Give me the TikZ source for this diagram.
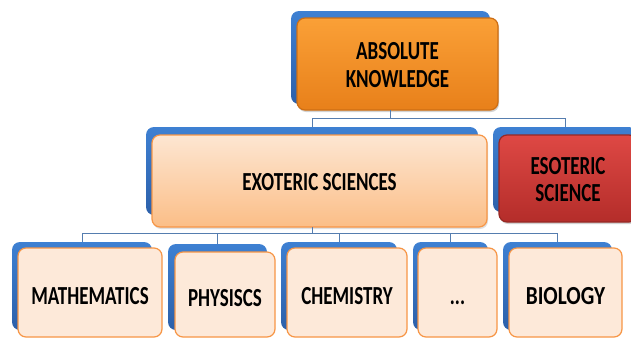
\documentclass[tikz,border=0pt]{standalone}
\usepackage{fontspec}
\setmainfont{Carlito}
\usepackage{graphicx}
\usetikzlibrary{shadows}
\definecolor{bluetop}{RGB}{62,128,210}
\definecolor{bluebot}{RGB}{44,96,170}
\definecolor{orgtop}{RGB}{250,160,55}
\definecolor{orgbot}{RGB}{232,128,26}
\definecolor{orgline}{RGB}{205,110,20}
\definecolor{peachtop}{RGB}{253,230,210}
\definecolor{peachbot}{RGB}{251,190,135}
\definecolor{peachline}{RGB}{247,150,70}
\definecolor{redtop}{RGB}{222,72,68}
\definecolor{redbot}{RGB}{180,45,42}
\definecolor{redline}{RGB}{150,40,36}
\definecolor{leaffill}{RGB}{253,233,217}
\definecolor{connc}{RGB}{85,125,175}
\newcommand{\lbl}[2][-4pt]{\raisebox{#1}[\height][\depth]{\scalebox{1}[1.37]{\begin{tabular}{@{}c@{}}#2\end{tabular}}}}
\newcommand{\widelbl}[1]{\raisebox{-6.5pt}[\height][\depth]{\scalebox{1.12}[1.37]{\begin{tabular}{@{}c@{}}#1\end{tabular}}}}
\begin{document}
\begin{tikzpicture}[x=1pt,y=-1pt,
  backing/.style={draw=none, rounded corners=8pt, top color=bluetop, bottom color=bluebot, inner sep=0pt, outer sep=0pt},
  front/.style={rounded corners=8pt, inner sep=0pt, outer sep=0pt, line width=1.2pt,
    font=\fontsize{19}{20}\selectfont\bfseries},
  topbox/.style={front, draw=orgline, top color=orgtop, bottom color=orgbot,
    drop shadow={shadow xshift=1pt, shadow yshift=-2pt, opacity=.35}},
  midbox/.style={front, draw=peachline, top color=peachtop, bottom color=peachbot,
    drop shadow={shadow xshift=1pt, shadow yshift=-2pt, opacity=.25}},
  redbox/.style={front, draw=redline, top color=redtop, bottom color=redbot,
    drop shadow={shadow xshift=1pt, shadow yshift=-2pt, opacity=.35}},
  leafbox/.style={front, draw=peachline, fill=leaffill},
  conn/.style={draw=connc, line width=1pt}]
\useasboundingbox (0,0) rectangle (631,338);
\clip (0,0) rectangle (631,338);
\fill[white] (0,0) rectangle (631,338);
% bus coordinates
\coordinate (bus1) at (0,118);
\coordinate (bus2) at (0,233);
% backings
\node[backing, minimum width=199pt, minimum height=93pt] (absb) at (390.5,57.5) {};
\node[backing, minimum width=332pt, minimum height=88pt] (exob) at (312,171) {};
\node[backing, minimum width=144pt, minimum height=85pt] (esob) at (565,169.5) {};
\node[backing, minimum width=140pt, minimum height=88pt] (mathb) at (82,286) {};
\node[backing, minimum width=99pt, minimum height=86pt] (phyb) at (217.5,287) {};
\node[backing, minimum width=116pt, minimum height=88pt] (chemb) at (339,286) {};
\node[backing, minimum width=75pt, minimum height=88pt] (dotb) at (450.5,286) {};
\node[backing, minimum width=109pt, minimum height=88pt] (biob) at (557.5,286) {};
% front boxes
\node[topbox, minimum width=201pt, minimum height=92pt] (abs) at (397.5,64) {\lbl{ABSOLUTE\\KNOWLEDGE}};
\node[midbox, minimum width=335pt, minimum height=92pt] (exo) at (319.5,181) {\lbl{EXOTERIC SCIENCES}};
\node[redbox, minimum width=138pt, minimum height=87pt] (eso) at (568,178.5) {\lbl{ESOTERIC\\SCIENCE}};
\node[leafbox, minimum width=144pt, minimum height=89pt] (math) at (90,292.5) {\lbl[-6.5pt]{MATHEMATICS}};
\node[leafbox, minimum width=100pt, minimum height=85pt] (phy) at (225,294.5) {\lbl[-6.5pt]{PHYSISCS}};
\node[leafbox, minimum width=120pt, minimum height=89pt] (chem) at (347,292.5) {\lbl[-6.5pt]{CHEMISTRY}};
\node[leafbox, minimum width=79pt, minimum height=89pt] (dot) at (457.5,292.5) {\lbl[-6.5pt]{...}};
\node[leafbox, minimum width=113pt, minimum height=89pt] (bio) at (565.5,292.5) {\widelbl{BIOLOGY}};
% connectors
\draw[conn] (absb |- abs.south) -- (absb |- bus1) -| (exob.north);
\draw[conn] (absb |- bus1) -| (esob.north);
\draw[conn] (exob |- exo.south) -- (exob |- bus2) -| (mathb.north);
\draw[conn] (exob |- bus2) -| (phyb.north);
\draw[conn] (exob |- bus2) -| (chemb.north);
\draw[conn] (exob |- bus2) -| (dotb.north);
\draw[conn] (exob |- bus2) -| (biob.north);
\end{tikzpicture}
\end{document}
